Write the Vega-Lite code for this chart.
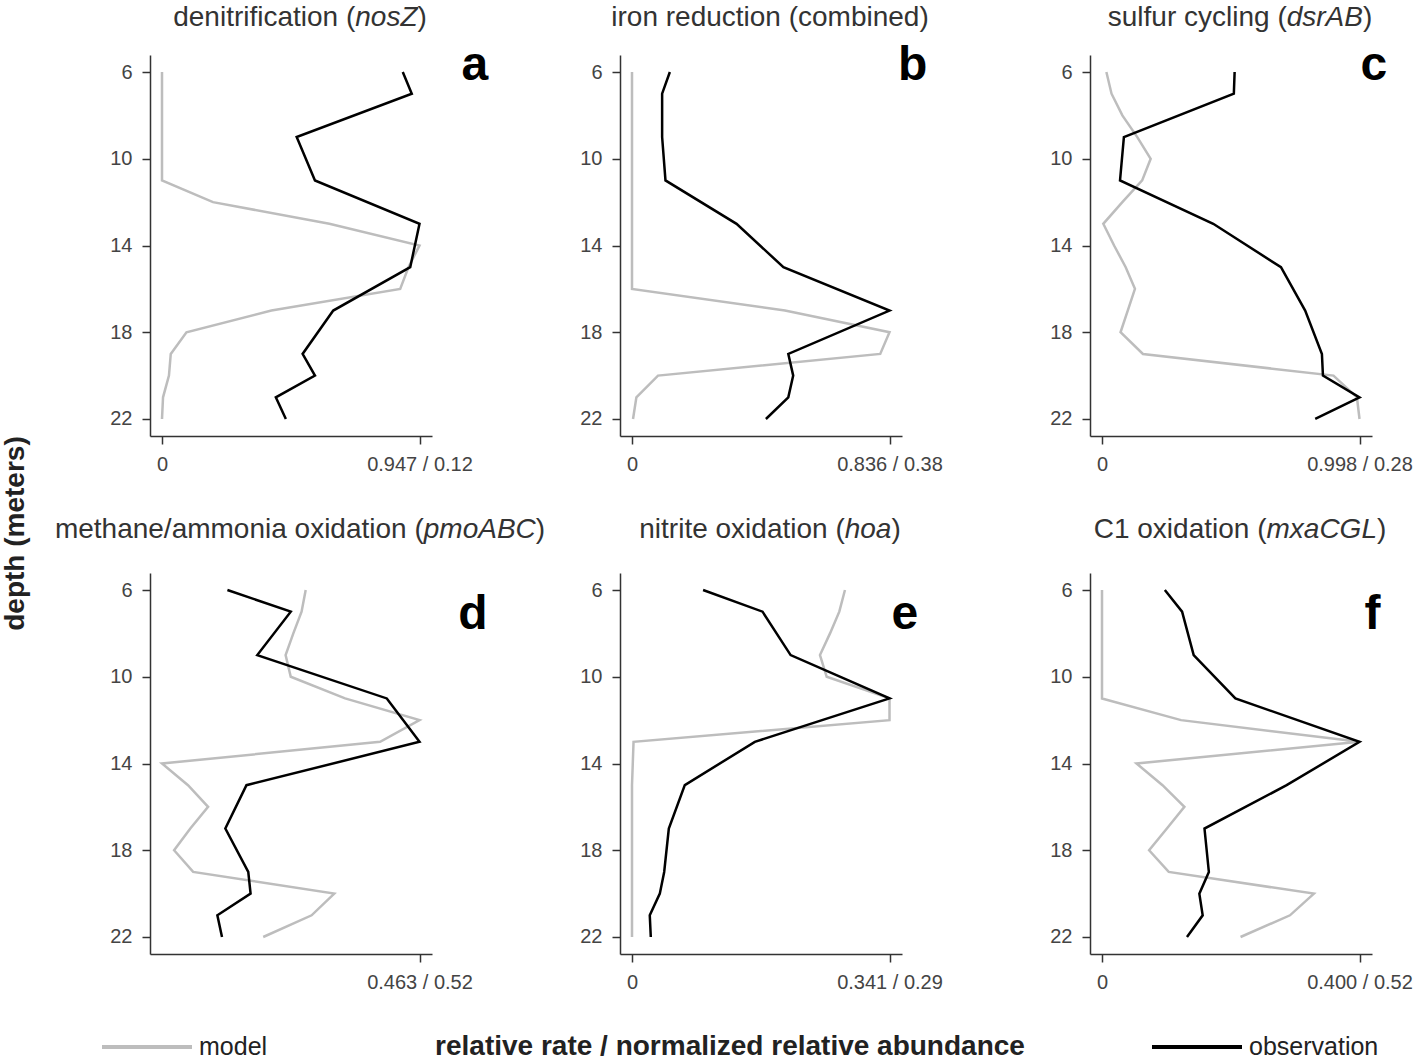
{
  "$schema": "https://vega.github.io/schema/vega-lite/v6.json",
  "padding": {"left": 0, "top": 4, "right": 0, "bottom": 0},
  "background": "white",
  "data": {"values": [
    {"panel":"a","series":"model","depth":6,"value":0},{"panel":"a","series":"model","depth":7,"value":0},{"panel":"a","series":"model","depth":8,"value":0},{"panel":"a","series":"model","depth":9,"value":0},{"panel":"a","series":"model","depth":10,"value":0},{"panel":"a","series":"model","depth":11,"value":0},{"panel":"a","series":"model","depth":12,"value":0.198},{"panel":"a","series":"model","depth":13,"value":0.65},{"panel":"a","series":"model","depth":14,"value":1},{"panel":"a","series":"model","depth":15,"value":0.957},{"panel":"a","series":"model","depth":16,"value":0.925},{"panel":"a","series":"model","depth":17,"value":0.425},{"panel":"a","series":"model","depth":18,"value":0.095},{"panel":"a","series":"model","depth":19,"value":0.034},{"panel":"a","series":"model","depth":20,"value":0.027},{"panel":"a","series":"model","depth":21,"value":0.004},{"panel":"a","series":"model","depth":22,"value":0},
    {"panel":"a","series":"observation","depth":6,"value":0.935},{"panel":"a","series":"observation","depth":7,"value":0.97},{"panel":"a","series":"observation","depth":9,"value":0.523},{"panel":"a","series":"observation","depth":11,"value":0.594},{"panel":"a","series":"observation","depth":13,"value":1},{"panel":"a","series":"observation","depth":15,"value":0.964},{"panel":"a","series":"observation","depth":17,"value":0.665},{"panel":"a","series":"observation","depth":19,"value":0.546},{"panel":"a","series":"observation","depth":20,"value":0.594},{"panel":"a","series":"observation","depth":21,"value":0.442},{"panel":"a","series":"observation","depth":22,"value":0.481},
    {"panel":"b","series":"model","depth":6,"value":0},{"panel":"b","series":"model","depth":7,"value":0},{"panel":"b","series":"model","depth":8,"value":0},{"panel":"b","series":"model","depth":9,"value":0},{"panel":"b","series":"model","depth":10,"value":0},{"panel":"b","series":"model","depth":11,"value":0},{"panel":"b","series":"model","depth":12,"value":0},{"panel":"b","series":"model","depth":13,"value":0},{"panel":"b","series":"model","depth":14,"value":0},{"panel":"b","series":"model","depth":15,"value":0},{"panel":"b","series":"model","depth":16,"value":0},{"panel":"b","series":"model","depth":17,"value":0.594},{"panel":"b","series":"model","depth":18,"value":1},{"panel":"b","series":"model","depth":19,"value":0.964},{"panel":"b","series":"model","depth":20,"value":0.101},{"panel":"b","series":"model","depth":21,"value":0.017},{"panel":"b","series":"model","depth":22,"value":0.004},
    {"panel":"b","series":"observation","depth":6,"value":0.147},{"panel":"b","series":"observation","depth":7,"value":0.117},{"panel":"b","series":"observation","depth":9,"value":0.117},{"panel":"b","series":"observation","depth":11,"value":0.13},{"panel":"b","series":"observation","depth":13,"value":0.406},{"panel":"b","series":"observation","depth":15,"value":0.588},{"panel":"b","series":"observation","depth":17,"value":1},{"panel":"b","series":"observation","depth":19,"value":0.607},{"panel":"b","series":"observation","depth":20,"value":0.626},{"panel":"b","series":"observation","depth":21,"value":0.607},{"panel":"b","series":"observation","depth":22,"value":0.52},
    {"panel":"c","series":"model","depth":6,"value":0.017},{"panel":"c","series":"model","depth":7,"value":0.037},{"panel":"c","series":"model","depth":8,"value":0.079},{"panel":"c","series":"model","depth":9,"value":0.137},{"panel":"c","series":"model","depth":10,"value":0.189},{"panel":"c","series":"model","depth":11,"value":0.156},{"panel":"c","series":"model","depth":12,"value":0.079},{"panel":"c","series":"model","depth":13,"value":0.005},{"panel":"c","series":"model","depth":14,"value":0.047},{"panel":"c","series":"model","depth":15,"value":0.092},{"panel":"c","series":"model","depth":16,"value":0.128},{"panel":"c","series":"model","depth":17,"value":0.1},{"panel":"c","series":"model","depth":18,"value":0.072},{"panel":"c","series":"model","depth":19,"value":0.159},{"panel":"c","series":"model","depth":20,"value":0.899},{"panel":"c","series":"model","depth":21,"value":0.99},{"panel":"c","series":"model","depth":22,"value":1},
    {"panel":"c","series":"observation","depth":6,"value":0.515},{"panel":"c","series":"observation","depth":7,"value":0.512},{"panel":"c","series":"observation","depth":9,"value":0.085},{"panel":"c","series":"observation","depth":11,"value":0.07},{"panel":"c","series":"observation","depth":13,"value":0.432},{"panel":"c","series":"observation","depth":15,"value":0.695},{"panel":"c","series":"observation","depth":17,"value":0.789},{"panel":"c","series":"observation","depth":19,"value":0.854},{"panel":"c","series":"observation","depth":20,"value":0.858},{"panel":"c","series":"observation","depth":21,"value":1},{"panel":"c","series":"observation","depth":22,"value":0.828},
    {"panel":"d","series":"model","depth":6,"value":0.558},{"panel":"d","series":"model","depth":7,"value":0.542},{"panel":"d","series":"model","depth":8,"value":0.51},{"panel":"d","series":"model","depth":9,"value":0.48},{"panel":"d","series":"model","depth":10,"value":0.5},{"panel":"d","series":"model","depth":11,"value":0.711},{"panel":"d","series":"model","depth":12,"value":1},{"panel":"d","series":"model","depth":13,"value":0.847},{"panel":"d","series":"model","depth":14,"value":0},{"panel":"d","series":"model","depth":15,"value":0.101},{"panel":"d","series":"model","depth":16,"value":0.179},{"panel":"d","series":"model","depth":17,"value":0.11},{"panel":"d","series":"model","depth":18,"value":0.047},{"panel":"d","series":"model","depth":19,"value":0.121},{"panel":"d","series":"model","depth":20,"value":0.669},{"panel":"d","series":"model","depth":21,"value":0.581},{"panel":"d","series":"model","depth":22,"value":0.393},
    {"panel":"d","series":"observation","depth":6,"value":0.254},{"panel":"d","series":"observation","depth":7,"value":0.5},{"panel":"d","series":"observation","depth":9,"value":0.37},{"panel":"d","series":"observation","depth":11,"value":0.873},{"panel":"d","series":"observation","depth":13,"value":1},{"panel":"d","series":"observation","depth":15,"value":0.328},{"panel":"d","series":"observation","depth":17,"value":0.246},{"panel":"d","series":"observation","depth":19,"value":0.335},{"panel":"d","series":"observation","depth":20,"value":0.344},{"panel":"d","series":"observation","depth":21,"value":0.215},{"panel":"d","series":"observation","depth":22,"value":0.233},
    {"panel":"e","series":"model","depth":6,"value":0.827},{"panel":"e","series":"model","depth":7,"value":0.805},{"panel":"e","series":"model","depth":8,"value":0.769},{"panel":"e","series":"model","depth":9,"value":0.73},{"panel":"e","series":"model","depth":10,"value":0.756},{"panel":"e","series":"model","depth":11,"value":1},{"panel":"e","series":"model","depth":12,"value":1},{"panel":"e","series":"model","depth":13,"value":0.006},{"panel":"e","series":"model","depth":14,"value":0.003},{"panel":"e","series":"model","depth":15,"value":0},{"panel":"e","series":"model","depth":16,"value":0},{"panel":"e","series":"model","depth":17,"value":0},{"panel":"e","series":"model","depth":18,"value":0},{"panel":"e","series":"model","depth":19,"value":0},{"panel":"e","series":"model","depth":20,"value":0},{"panel":"e","series":"model","depth":21,"value":0},{"panel":"e","series":"model","depth":22,"value":0},
    {"panel":"e","series":"observation","depth":6,"value":0.276},{"panel":"e","series":"observation","depth":7,"value":0.507},{"panel":"e","series":"observation","depth":9,"value":0.616},{"panel":"e","series":"observation","depth":11,"value":1},{"panel":"e","series":"observation","depth":13,"value":0.477},{"panel":"e","series":"observation","depth":15,"value":0.205},{"panel":"e","series":"observation","depth":17,"value":0.143},{"panel":"e","series":"observation","depth":19,"value":0.125},{"panel":"e","series":"observation","depth":20,"value":0.108},{"panel":"e","series":"observation","depth":21,"value":0.069},{"panel":"e","series":"observation","depth":22,"value":0.073},
    {"panel":"f","series":"model","depth":6,"value":0},{"panel":"f","series":"model","depth":7,"value":0},{"panel":"f","series":"model","depth":8,"value":0},{"panel":"f","series":"model","depth":9,"value":0},{"panel":"f","series":"model","depth":10,"value":0},{"panel":"f","series":"model","depth":11,"value":0},{"panel":"f","series":"model","depth":12,"value":0.307},{"panel":"f","series":"model","depth":13,"value":1},{"panel":"f","series":"model","depth":14,"value":0.134},{"panel":"f","series":"model","depth":15,"value":0.235},{"panel":"f","series":"model","depth":16,"value":0.32},{"panel":"f","series":"model","depth":17,"value":0.252},{"panel":"f","series":"model","depth":18,"value":0.183},{"panel":"f","series":"model","depth":19,"value":0.259},{"panel":"f","series":"model","depth":20,"value":0.823},{"panel":"f","series":"model","depth":21,"value":0.73},{"panel":"f","series":"model","depth":22,"value":0.538},
    {"panel":"f","series":"observation","depth":6,"value":0.244},{"panel":"f","series":"observation","depth":7,"value":0.311},{"panel":"f","series":"observation","depth":9,"value":0.356},{"panel":"f","series":"observation","depth":11,"value":0.518},{"panel":"f","series":"observation","depth":13,"value":1},{"panel":"f","series":"observation","depth":15,"value":0.717},{"panel":"f","series":"observation","depth":17,"value":0.398},{"panel":"f","series":"observation","depth":19,"value":0.415},{"panel":"f","series":"observation","depth":20,"value":0.378},{"panel":"f","series":"observation","depth":21,"value":0.391},{"panel":"f","series":"observation","depth":22,"value":0.33}
  ]},
  "columns": 3,
  "bounds": "flush",
  "spacing": {"row": 137, "column": 188},
  "resolve": {"scale": {"color": "shared", "x": "independent", "y": "independent"}, "legend": {"color": "shared"}},
  "concat": [
    {
      "width": 282, "height": 381,
      "layer": [
        {"transform": [{"filter": "datum.panel === 'a'"}], "mark": {"type": "line", "strokeWidth": 2.5},
         "encoding": {
           "x": {"field": "value", "type": "quantitative", "scale": {"domain": [-0.0466, 1.0485], "nice": false, "zero": false}, "axis": {"values": [0, 1], "labelExpr": "datum.value === 0 ? '0' : '0.947 / 0.12'", "title": null}},
           "y": {"field": "depth", "type": "quantitative", "scale": {"domain": [5.216, 22.784], "reverse": true, "nice": false, "zero": false}, "axis": {"values": [6, 10, 14, 18, 22], "title": null}},
           "color": {"field": "series", "type": "nominal", "scale": {"domain": ["model", "observation"], "range": ["#bdbdbd", "#000000"]}, "legend": {"title": null, "orient": "none", "legendX": -50, "legendY": 945, "direction": "horizontal", "columns": 2, "columnPadding": 876, "symbolType": "stroke", "symbolSize": 8100, "symbolStrokeWidth": 4, "labelFontSize": 25, "labelOffset": 5, "labelColor": "#222", "padding": 0}},
           "order": {"field": "depth", "type": "quantitative"}}},
        {"data": {"values": [{}]}, "mark": {"type": "text", "text": "denitrification (", "align": "right", "baseline": "alphabetic", "fontSize": 28, "color": "#333", "dx": 55.26}, "encoding": {"x": {"datum": 0.536, "type": "quantitative"}, "y": {"datum": 3.879, "type": "quantitative"}}},
        {"data": {"values": [{}]}, "mark": {"type": "text", "text": "nosZ", "align": "left", "baseline": "alphabetic", "fontSize": 28, "fontStyle": "italic", "color": "#333", "dx": 55.26}, "encoding": {"x": {"datum": 0.536, "type": "quantitative"}, "y": {"datum": 3.879, "type": "quantitative"}}},
        {"data": {"values": [{}]}, "mark": {"type": "text", "text": ")", "align": "left", "baseline": "alphabetic", "fontSize": 28, "color": "#333", "dx": 117.5}, "encoding": {"x": {"datum": 0.536, "type": "quantitative"}, "y": {"datum": 3.879, "type": "quantitative"}}},
        {"data": {"values": [{}]}, "mark": {"type": "text", "text": "a", "align": "center", "baseline": "alphabetic", "fontSize": 48, "fontWeight": "bold", "color": "#000"}, "encoding": {"x": {"datum": 1.215, "type": "quantitative"}, "y": {"datum": 6.37, "type": "quantitative"}}}
      ]
    },
    {
      "width": 282, "height": 381,
      "layer": [
        {"transform": [{"filter": "datum.panel === 'b'"}], "mark": {"type": "line", "strokeWidth": 2.5},
         "encoding": {
           "x": {"field": "value", "type": "quantitative", "scale": {"domain": [-0.0466, 1.0485], "nice": false, "zero": false}, "axis": {"values": [0, 1], "labelExpr": "datum.value === 0 ? '0' : '0.836 / 0.38'", "title": null}},
           "y": {"field": "depth", "type": "quantitative", "scale": {"domain": [5.216, 22.784], "reverse": true, "nice": false, "zero": false}, "axis": {"values": [6, 10, 14, 18, 22], "title": null}},
           "color": {"field": "series", "type": "nominal", "scale": {"domain": ["model", "observation"], "range": ["#bdbdbd", "#000000"]}, "legend": {"title": null}},
           "order": {"field": "depth", "type": "quantitative"}}},
        {"data": {"values": [{}]}, "mark": {"type": "text", "text": "iron reduction (combined)", "align": "center", "baseline": "alphabetic", "fontSize": 28, "color": "#333"}, "encoding": {"x": {"datum": 0.536, "type": "quantitative"}, "y": {"datum": 3.879, "type": "quantitative"}}},
        {"data": {"values": [{}]}, "mark": {"type": "text", "text": "b", "align": "center", "baseline": "alphabetic", "fontSize": 48, "fontWeight": "bold", "color": "#000"}, "encoding": {"x": {"datum": 1.09, "type": "quantitative"}, "y": {"datum": 6.37, "type": "quantitative"}}}
      ]
    },
    {
      "width": 282, "height": 381,
      "layer": [
        {"transform": [{"filter": "datum.panel === 'c'"}], "mark": {"type": "line", "strokeWidth": 2.5},
         "encoding": {
           "x": {"field": "value", "type": "quantitative", "scale": {"domain": [-0.0466, 1.0485], "nice": false, "zero": false}, "axis": {"values": [0, 1], "labelExpr": "datum.value === 0 ? '0' : '0.998 / 0.28'", "title": null}},
           "y": {"field": "depth", "type": "quantitative", "scale": {"domain": [5.216, 22.784], "reverse": true, "nice": false, "zero": false}, "axis": {"values": [6, 10, 14, 18, 22], "title": null}},
           "color": {"field": "series", "type": "nominal", "scale": {"domain": ["model", "observation"], "range": ["#bdbdbd", "#000000"]}, "legend": {"title": null}},
           "order": {"field": "depth", "type": "quantitative"}}},
        {"data": {"values": [{}]}, "mark": {"type": "text", "text": "sulfur cycling (", "align": "right", "baseline": "alphabetic", "fontSize": 28, "color": "#333", "dx": 46.68}, "encoding": {"x": {"datum": 0.536, "type": "quantitative"}, "y": {"datum": 3.879, "type": "quantitative"}}},
        {"data": {"values": [{}]}, "mark": {"type": "text", "text": "dsrAB", "align": "left", "baseline": "alphabetic", "fontSize": 28, "fontStyle": "italic", "color": "#333", "dx": 46.68}, "encoding": {"x": {"datum": 0.536, "type": "quantitative"}, "y": {"datum": 3.879, "type": "quantitative"}}},
        {"data": {"values": [{}]}, "mark": {"type": "text", "text": ")", "align": "left", "baseline": "alphabetic", "fontSize": 28, "color": "#333", "dx": 122.92}, "encoding": {"x": {"datum": 0.536, "type": "quantitative"}, "y": {"datum": 3.879, "type": "quantitative"}}},
        {"data": {"values": [{}]}, "mark": {"type": "text", "text": "c", "align": "center", "baseline": "alphabetic", "fontSize": 48, "fontWeight": "bold", "color": "#000"}, "encoding": {"x": {"datum": 1.056, "type": "quantitative"}, "y": {"datum": 6.37, "type": "quantitative"}}}
      ]
    },
    {
      "width": 282, "height": 381,
      "layer": [
        {"transform": [{"filter": "datum.panel === 'd'"}], "mark": {"type": "line", "strokeWidth": 2.5},
         "encoding": {
           "x": {"field": "value", "type": "quantitative", "scale": {"domain": [-0.0466, 1.0485], "nice": false, "zero": false}, "axis": {"values": [1], "labelExpr": "'0.463 / 0.52'", "title": null}},
           "y": {"field": "depth", "type": "quantitative", "scale": {"domain": [5.216, 22.784], "reverse": true, "nice": false, "zero": false}, "axis": {"values": [6, 10, 14, 18, 22], "title": "depth (meters)", "titleX": -127, "titleY": -40, "titleAngle": 270, "titleAlign": "center", "titleBaseline": "alphabetic", "titleFontSize": 28, "titleFontWeight": "bold", "titleColor": "#222"}},
           "color": {"field": "series", "type": "nominal", "scale": {"domain": ["model", "observation"], "range": ["#bdbdbd", "#000000"]}, "legend": {"title": null}},
           "order": {"field": "depth", "type": "quantitative"}}},
        {"data": {"values": [{}]}, "mark": {"type": "text", "text": "methane/ammonia oxidation (", "align": "right", "baseline": "alphabetic", "fontSize": 28, "color": "#333", "dx": 123.74}, "encoding": {"x": {"datum": 0.536, "type": "quantitative"}, "y": {"datum": 3.6, "type": "quantitative"}}},
        {"data": {"values": [{}]}, "mark": {"type": "text", "text": "pmoABC", "align": "left", "baseline": "alphabetic", "fontSize": 28, "fontStyle": "italic", "color": "#333", "dx": 123.74}, "encoding": {"x": {"datum": 0.536, "type": "quantitative"}, "y": {"datum": 3.6, "type": "quantitative"}}},
        {"data": {"values": [{}]}, "mark": {"type": "text", "text": ")", "align": "left", "baseline": "alphabetic", "fontSize": 28, "color": "#333", "dx": 235.77}, "encoding": {"x": {"datum": 0.536, "type": "quantitative"}, "y": {"datum": 3.6, "type": "quantitative"}}},
        {"data": {"values": [{}]}, "mark": {"type": "text", "text": "d", "align": "center", "baseline": "alphabetic", "fontSize": 48, "fontWeight": "bold", "color": "#000"}, "encoding": {"x": {"datum": 1.207, "type": "quantitative"}, "y": {"datum": 7.8, "type": "quantitative"}}}
      ]
    },
    {
      "width": 282, "height": 381,
      "layer": [
        {"transform": [{"filter": "datum.panel === 'e'"}], "mark": {"type": "line", "strokeWidth": 2.5},
         "encoding": {
           "x": {"field": "value", "type": "quantitative", "scale": {"domain": [-0.0466, 1.0485], "nice": false, "zero": false}, "axis": {"values": [0, 1], "labelExpr": "datum.value === 0 ? '0' : '0.341 / 0.29'", "title": "relative rate / normalized relative abundance", "titleX": 109.5, "titleY": 100, "titleAlign": "center", "titleBaseline": "alphabetic", "titleFontSize": 28, "titleFontWeight": "bold", "titleColor": "#222"}},
           "y": {"field": "depth", "type": "quantitative", "scale": {"domain": [5.216, 22.784], "reverse": true, "nice": false, "zero": false}, "axis": {"values": [6, 10, 14, 18, 22], "title": null}},
           "color": {"field": "series", "type": "nominal", "scale": {"domain": ["model", "observation"], "range": ["#bdbdbd", "#000000"]}, "legend": {"title": null}},
           "order": {"field": "depth", "type": "quantitative"}}},
        {"data": {"values": [{}]}, "mark": {"type": "text", "text": "nitrite oxidation (", "align": "right", "baseline": "alphabetic", "fontSize": 28, "color": "#333", "dx": 74.69}, "encoding": {"x": {"datum": 0.536, "type": "quantitative"}, "y": {"datum": 3.6, "type": "quantitative"}}},
        {"data": {"values": [{}]}, "mark": {"type": "text", "text": "hoa", "align": "left", "baseline": "alphabetic", "fontSize": 28, "fontStyle": "italic", "color": "#333", "dx": 74.69}, "encoding": {"x": {"datum": 0.536, "type": "quantitative"}, "y": {"datum": 3.6, "type": "quantitative"}}},
        {"data": {"values": [{}]}, "mark": {"type": "text", "text": ")", "align": "left", "baseline": "alphabetic", "fontSize": 28, "color": "#333", "dx": 121.39}, "encoding": {"x": {"datum": 0.536, "type": "quantitative"}, "y": {"datum": 3.6, "type": "quantitative"}}},
        {"data": {"values": [{}]}, "mark": {"type": "text", "text": "e", "align": "center", "baseline": "alphabetic", "fontSize": 48, "fontWeight": "bold", "color": "#000"}, "encoding": {"x": {"datum": 1.06, "type": "quantitative"}, "y": {"datum": 7.8, "type": "quantitative"}}}
      ]
    },
    {
      "width": 282, "height": 381,
      "layer": [
        {"transform": [{"filter": "datum.panel === 'f'"}], "mark": {"type": "line", "strokeWidth": 2.5},
         "encoding": {
           "x": {"field": "value", "type": "quantitative", "scale": {"domain": [-0.0466, 1.0485], "nice": false, "zero": false}, "axis": {"values": [0, 1], "labelExpr": "datum.value === 0 ? '0' : '0.400 / 0.52'", "title": null}},
           "y": {"field": "depth", "type": "quantitative", "scale": {"domain": [5.216, 22.784], "reverse": true, "nice": false, "zero": false}, "axis": {"values": [6, 10, 14, 18, 22], "title": null}},
           "color": {"field": "series", "type": "nominal", "scale": {"domain": ["model", "observation"], "range": ["#bdbdbd", "#000000"]}, "legend": {"title": null}},
           "order": {"field": "depth", "type": "quantitative"}}},
        {"data": {"values": [{}]}, "mark": {"type": "text", "text": "C1 oxidation (", "align": "right", "baseline": "alphabetic", "fontSize": 28, "color": "#333", "dx": 26.47}, "encoding": {"x": {"datum": 0.536, "type": "quantitative"}, "y": {"datum": 3.6, "type": "quantitative"}}},
        {"data": {"values": [{}]}, "mark": {"type": "text", "text": "mxaCGL", "align": "left", "baseline": "alphabetic", "fontSize": 28, "fontStyle": "italic", "color": "#333", "dx": 26.47}, "encoding": {"x": {"datum": 0.536, "type": "quantitative"}, "y": {"datum": 3.6, "type": "quantitative"}}},
        {"data": {"values": [{}]}, "mark": {"type": "text", "text": ")", "align": "left", "baseline": "alphabetic", "fontSize": 28, "color": "#333", "dx": 136.93}, "encoding": {"x": {"datum": 0.536, "type": "quantitative"}, "y": {"datum": 3.6, "type": "quantitative"}}},
        {"data": {"values": [{}]}, "mark": {"type": "text", "text": "f", "align": "center", "baseline": "alphabetic", "fontSize": 48, "fontWeight": "bold", "color": "#000"}, "encoding": {"x": {"datum": 1.05, "type": "quantitative"}, "y": {"datum": 7.8, "type": "quantitative"}}}
      ]
    }
  ],
  "config": {
    "font": "Liberation Sans",
    "view": {"stroke": null},
    "axis": {"grid": false, "domainColor": "#333", "domainWidth": 1.5, "tickColor": "#333", "tickWidth": 1.5, "tickSize": 8, "labelFontSize": 20, "labelColor": "#444", "labelPadding": 10, "labelFlush": false, "labelBound": false, "labelOverlap": false, "labelFont": "Liberation Sans", "titleFont": "Liberation Sans"},
    "legend": {"labelFont": "Liberation Sans"}
  }
}
